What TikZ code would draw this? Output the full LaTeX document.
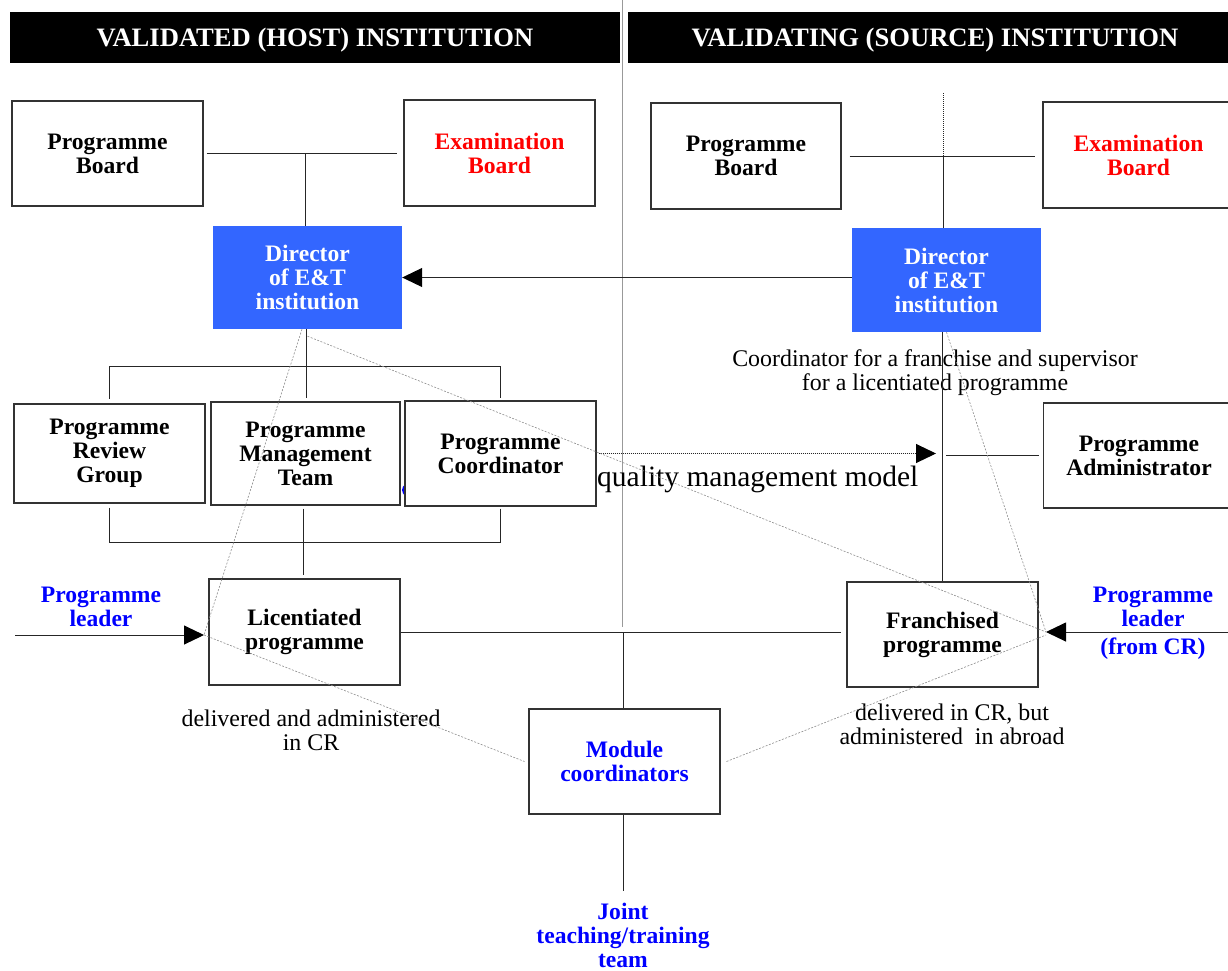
\documentclass[tikz,border=0pt]{standalone}
\usepackage{fontspec}
\setmainfont{Liberation Serif}
\usetikzlibrary{arrows.meta}
\definecolor{dirblue}{HTML}{3366FF}
\definecolor{labblue}{HTML}{0000FF}
\definecolor{labred}{HTML}{FF0000}
\begin{document}
\begin{tikzpicture}[x=1pt,y=-1pt,
  lab/.style={font=\fontsize{23.6}{24}\selectfont\bfseries, align=center, inner sep=0pt},
  box/.style={lab, draw=black!80, line width=1.1pt, fill=white},
  dirbox/.style={lab, fill=dirblue, text=white},
  hdr/.style={fill=black, text=white, font=\fontsize{26.6}{28}\selectfont\bfseries, inner sep=0pt, text depth=0pt},
  note/.style={font=\fontsize{23.9}{24}\selectfont, align=center, inner sep=0pt},
  conn/.style={line width=1pt, black!85},
  guide/.style={black!45, line width=0.6pt, dash pattern=on 2pt off 1.5pt},
  arr/.style={-{Triangle[length=20pt,width=19pt,color=black]}},
]
\useasboundingbox (0,0) rectangle (1228,970);

% column headers and the divider between the two institutions
\node[hdr, minimum width=610, minimum height=51] (hL) at (315,37.5) {VALIDATED (HOST) INSTITUTION};
\node[hdr, minimum width=614, minimum height=51] (hR) at (935,37.5) {VALIDATING (SOURCE) INSTITUTION};
\coordinate (divtop) at (622,0);
\coordinate (divbot) at (622,627);
\draw[black!40, line width=0.8pt] (divtop) -- (divbot);

% blue mark partly hidden behind the coordinator box
\fill[labblue] (415,490) ellipse [x radius=13, y radius=9];

% boxes
\node[box, minimum width=191, minimum height=105] (pbL) at (107.5,153.5) {Programme\\Board};
\node[box, text=labred, minimum width=191, minimum height=106] (ebL) at (499.5,153) {Examination\\Board};
\node[dirbox, minimum width=189, minimum height=103] (dirL) at (307.5,277.5) {Director\\of E\&T\\institution};
\node[box, minimum width=190, minimum height=106] (pbR) at (746,156) {Programme\\Board};
\node[box, text=labred, minimum width=191, minimum height=106] (ebR) at (1138.5,155) {Examination\\Board};
\node[dirbox, minimum width=189, minimum height=104] (dirR) at (946.5,280) {Director\\of E\&T\\institution};
\node[box, minimum width=191, minimum height=99] (prg) at (109.5,453.5) {Programme\\Review\\Group};
\node[box, minimum width=189, minimum height=103] (pmt) at (305.5,453.5) {Programme\\Management\\Team};
\node[box, minimum width=191, minimum height=105] (pc) at (500.5,453.5) {Programme\\Coordinator};
\node[box, minimum width=191, minimum height=105] (pa) at (1139,455.5) {Programme\\Administrator};
\node[box, minimum width=191, minimum height=106] (lic) at (304.5,632) {Licentiated\\programme};
\node[box, minimum width=191, minimum height=105] (fr) at (942.5,634.5) {Franchised\\programme};
\node[box, text=labblue, minimum width=191, minimum height=105] (mod) at (624.5,761.5) {Module\\coordinators};

% free-standing labels
\node[lab, text=labblue] (plL) at (101,607.2) {Programme\\leader};
\node[lab, text=labblue] (plR) at (1153,622.8) {Programme\\leader\\[4pt](from CR)};
\node[note] (coordNote) at (935,372.5) {Coordinator for a franchise and supervisor\\for a licentiated programme};
\node[note, font=\fontsize{29.5}{30}\selectfont, anchor=base west] (qmm) at (597,486) {quality management model};
\node[note] (licNote) at (311,730.8) {delivered and administered\\in CR};
\node[note] (frNote) at (952,723.9) {delivered in CR, but\\administered\ \ in abroad};
\node[lab, text=labblue] (joint) at (623,935.2) {Joint\\teaching/training\\team};

% junction and end points
\coordinate (jL) at (305,154);
\coordinate (jR) at (943,156);
\coordinate (topR) at (943,93);
\coordinate (t1) at (306,366);
\coordinate (b1) at (303,542);
\coordinate (jm) at (623,632);
\coordinate (plLin) at (15,635);
\coordinate (tipL) at (204,635);
\coordinate (plRin) at (1240,632);
\coordinate (tipR) at (1046,632);
\coordinate (qmtip) at (936,453.5);
\coordinate (pa0) at (946,455.5);

% left institution
\draw[conn, shorten <=3pt, shorten >=6pt] (pbL.east) -- (pbL.east -| ebL.west);
\draw[conn] (jL) -- (jL |- dirL.north);
\draw[conn] (dirL.south -| t1) -- (t1);
\draw[conn, shorten >=4pt] (t1) -| (prg.north);
\draw[conn, shorten >=2pt] (t1) -| (pc.north);
\draw[conn, shorten >=3pt] (t1) -- (t1 |- pmt.north);
\draw[conn, shorten <=4pt] (prg.south) |- (b1);
\draw[conn, shorten <=2pt] (pc.south) |- (b1);
\draw[conn, shorten <=3pt, shorten >=3pt] (b1 |- pmt.south) -- (b1 |- lic.north);
\draw[conn, arr] (plLin) -- (tipL);

% right institution
\draw[conn, shorten <=8pt, shorten >=7pt] (pbR.east) -- (pbR.east -| ebR.west);
\draw[conn, densely dotted] (topR) -- (jR);
\draw[conn] (jR) -- (jR |- dirR.north);
\draw[conn, arr] (dirR.west |- dirL.east) -- (dirL.east);
\draw[conn] (fr.north |- dirR.south) -- (fr.north);
\draw[conn, densely dotted, arr, shorten <=2pt] (pc.east) -- (qmtip);
\draw[conn, shorten >=4pt] (pa0) -- (pa.west);
\draw[conn, arr] (plRin) -- (tipR);

% shared delivery
\draw[conn, shorten >=5pt] (lic.east) -- (lic.east -| fr.west);
\draw[conn] (jm) -- (jm |- mod.north);
\draw[conn, shorten >=12pt] (jm |- mod.south) -- (jm |- joint.north);

% thin dashed guide lines
\draw[guide] ([xshift=-5.5pt]dirL.south) -- (tipL);
\draw[guide] ([yshift=-7pt]dirL.south) -- (tipR);
\draw[guide] (dirR.south) -- (tipR);
\draw[guide] (tipL) -- ([xshift=-4pt]mod.west);
\draw[guide] ([xshift=6pt]mod.east) -- ([yshift=-3pt]tipR);
\end{tikzpicture}
\end{document}
